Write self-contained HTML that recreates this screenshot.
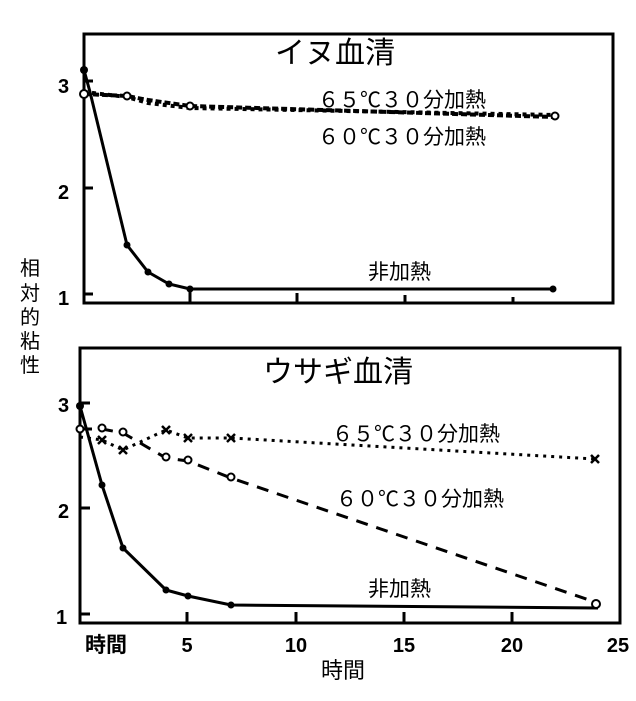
<!DOCTYPE html>
<html><head><meta charset="utf-8"><style>
body{margin:0;background:#fff}
svg text{font-family:"Liberation Sans","Noto Sans CJK JP",sans-serif;fill:#000}
</style></head><body>
<svg width="636" height="696" viewBox="0 0 636 696" xmlns="http://www.w3.org/2000/svg">
<rect x="0" y="0" width="636" height="696" fill="#fff"/>
<!-- top panel -->
<rect x="84" y="34" width="529" height="269" fill="none" stroke="#000" stroke-width="3"/>
<g stroke="#000" stroke-width="3">
<line x1="84" y1="81" x2="93" y2="81"/><line x1="84" y1="188" x2="93" y2="188"/><line x1="84" y1="294" x2="93" y2="294"/>
<line x1="190" y1="303" x2="190" y2="291"/><line x1="297" y1="303" x2="297" y2="293"/><line x1="405" y1="303" x2="405" y2="295"/><line x1="513" y1="303" x2="513" y2="297"/>
</g>
<g font-weight="bold" font-size="20">
<text x="58" y="93">3</text><text x="58" y="199">2</text><text x="58" y="305">1</text>
</g>
<text x="335" y="63" font-size="30" text-anchor="middle">イヌ血清</text>
<text x="318" y="107" font-size="21">６５℃３０分加熱</text>
<text x="318" y="144" font-size="21">６０℃３０分加熱</text>
<text x="368" y="279" font-size="21">非加熱</text>
<polyline points="84,70 90,92 127,245 148,272 169,284 190,289 553,289" fill="none" stroke="#000" stroke-width="3"/>
<g fill="#000"><circle cx="84" cy="70" r="4"/><circle cx="127" cy="245" r="3.5"/><circle cx="148" cy="272" r="3.5"/><circle cx="169" cy="284" r="3.5"/><circle cx="190" cy="289" r="3.5"/><circle cx="553" cy="289" r="3.5"/></g>
<polyline points="84,94 127,96 148,100 190,106 555,117" fill="none" stroke="#000" stroke-width="4" stroke-dasharray="6,3"/>
<polyline points="84,92 127,97 148,103 190,108 555,115" fill="none" stroke="#000" stroke-width="4" stroke-dasharray="4,4"/>
<g fill="#fff" stroke="#000" stroke-width="2"><circle cx="84" cy="94" r="4"/><circle cx="127" cy="96" r="3.5"/><circle cx="190" cy="106" r="3.5"/><circle cx="555" cy="116" r="3.5"/></g>
<!-- y label -->
<g font-size="20" text-anchor="middle">
<text x="30" y="275">相</text><text x="30" y="300">対</text><text x="30" y="324">的</text><text x="30" y="348">粘</text><text x="30" y="372">性</text>
</g>
<!-- bottom panel -->
<rect x="80" y="348" width="540" height="275" fill="none" stroke="#000" stroke-width="3"/>
<g stroke="#000" stroke-width="3">
<line x1="80" y1="403" x2="90" y2="403"/><line x1="80" y1="508" x2="90" y2="508"/><line x1="80" y1="614" x2="90" y2="614"/>
<line x1="187" y1="623" x2="187" y2="612"/><line x1="296" y1="623" x2="296" y2="612"/><line x1="404" y1="623" x2="404" y2="612"/><line x1="512" y1="623" x2="512" y2="612"/>
</g>
<g font-weight="bold" font-size="20">
<text x="58" y="412">3</text><text x="58" y="518">2</text><text x="56" y="624">1</text>
<text x="187" y="652" text-anchor="middle">5</text><text x="296" y="652" text-anchor="middle">10</text><text x="404" y="652" text-anchor="middle">15</text><text x="512" y="652" text-anchor="middle">20</text><text x="618" y="652" text-anchor="middle">25</text>
</g>
<text x="106" y="652" font-size="21" font-weight="bold" text-anchor="middle">時間</text>
<text x="343" y="678" font-size="22" text-anchor="middle">時間</text>
<text x="338" y="382" font-size="30" text-anchor="middle">ウサギ血清</text>
<text x="332" y="441" font-size="21">６５℃３０分加熱</text>
<text x="336" y="506" font-size="21">６０℃３０分加熱</text>
<text x="368" y="596" font-size="21">非加熱</text>
<polyline points="80,406 102,485 123,548 166,590 188,596 231,605 598,608" fill="none" stroke="#000" stroke-width="3"/>
<g fill="#000"><circle cx="80" cy="406" r="4"/><circle cx="102" cy="485" r="3.5"/><circle cx="123" cy="548" r="3.5"/><circle cx="166" cy="590" r="3.5"/><circle cx="188" cy="596" r="3.5"/><circle cx="231" cy="605" r="3.5"/></g>
<polyline points="80,429 102,429 123,433 166,458 188,461 231,478 598,603" fill="none" stroke="#000" stroke-width="3" stroke-dasharray="12,9"/>
<g fill="#fff" stroke="#000" stroke-width="2"><circle cx="80" cy="429" r="3.5"/><circle cx="102" cy="428" r="3.5"/><circle cx="123" cy="432" r="3.5"/><circle cx="166" cy="457" r="3.5"/><circle cx="188" cy="460" r="3.5"/><circle cx="231" cy="477" r="3.5"/><circle cx="596" cy="604" r="4"/></g>
<polyline points="80,437 102,440 123,450 166,430 188,438 231,438 595,459" fill="none" stroke="#000" stroke-width="3" stroke-dasharray="3,5"/>
<g stroke="#000" stroke-width="2.5">
<path d="M98,436l8,8M106,436l-8,8M119,446l8,8M127,446l-8,8M162,426l8,8M170,426l-8,8M184,434l8,8M192,434l-8,8M227,434l8,8M235,434l-8,8M591,455l8,8M599,455l-8,8"/>
</g>
</svg>
</body></html>
